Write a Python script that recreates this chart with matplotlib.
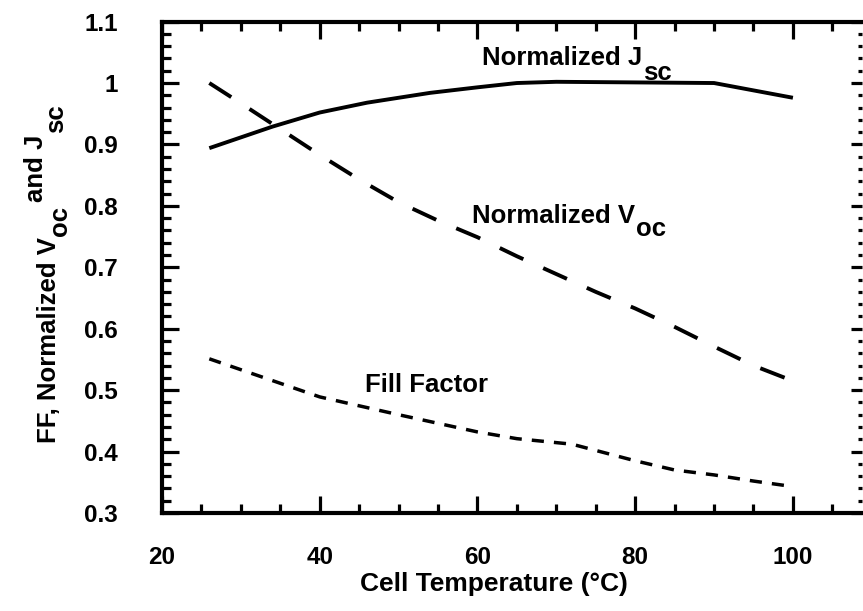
import matplotlib
matplotlib.use("Agg")
import matplotlib.pyplot as plt
from matplotlib.ticker import MultipleLocator, FuncFormatter

# values
temp_jsc = [26, 34, 40, 46, 54, 60, 65, 70, 80, 90, 100]
jsc_norm = [0.894, 0.929, 0.952, 0.968, 0.984, 0.993, 1.0, 1.002, 1.001, 1.0, 0.976]

temp_voc = [26, 30, 35, 40, 45, 50, 55, 60, 65, 70, 75, 80, 85, 90, 95, 100]
voc_norm = [1.0, 0.967, 0.925, 0.883, 0.843, 0.806, 0.776, 0.749, 0.718, 0.689,
            0.66, 0.633, 0.603, 0.571, 0.540, 0.515]

temp_ff = [26, 40, 50, 60, 65, 72, 80, 85, 90, 95, 100]
fill_factor = [0.551, 0.489, 0.46, 0.432, 0.421, 0.412, 0.385, 0.370, 0.362, 0.352, 0.343]

plt.rcParams['font.family'] = ['Liberation Sans', 'DejaVu Sans']
plt.rcParams['font.weight'] = 'bold'

W, H = 863, 611
fig = plt.figure(figsize=(W / 100, H / 100), dpi=100)
ax = fig.add_axes([162 / W, 1 - 513 / H, (862 - 162) / W, (513 - 21.6) / H])

ax.plot(temp_jsc, jsc_norm, color='black', lw=2.8, solid_capstyle='butt')
l_voc, = ax.plot(temp_voc, voc_norm, color='black', lw=2.8)
l_voc.set_dashes((6.7, 5.6))
l_ff, = ax.plot(temp_ff, fill_factor, color='black', lw=2.5)
l_ff.set_dashes((3.5, 2.9))

ax.set_xlim(20, 108.76)
ax.set_ylim(0.3, 1.1)

ax.xaxis.set_major_locator(MultipleLocator(20))
ax.xaxis.set_minor_locator(MultipleLocator(5))
ax.yaxis.set_major_locator(MultipleLocator(0.1))
ax.yaxis.set_minor_locator(MultipleLocator(0.02))
ax.yaxis.set_major_formatter(FuncFormatter(lambda v, p: '%g' % round(v, 2)))

for side in ['left', 'bottom', 'top']:
    ax.spines[side].set_linewidth(3)
ax.spines['right'].set_visible(False)

ax.tick_params(which='both', direction='in', top=True, right=False, width=2.3)
ax.tick_params(which='major', length=12.5)
ax.tick_params(which='minor', length=6.5)
ax.tick_params(axis='x', which='major', pad=24, labelsize=17.5)
ax.tick_params(axis='y', which='major', pad=32, labelsize=17.5)
for lab in ax.get_xticklabels() + ax.get_yticklabels():
    lab.set_fontweight('bold')

# right side: only short tick marks, no spine line
ax_r = ax.twinx()
ax_r.set_ylim(ax.get_ylim())
ax_r.yaxis.set_major_locator(MultipleLocator(0.1))
ax_r.yaxis.set_minor_locator(MultipleLocator(0.02))
for s in ax_r.spines.values():
    s.set_visible(False)
ax_r.tick_params(which='both', direction='in', width=2.3, labelright=False)
ax_r.tick_params(which='major', length=8)
ax_r.tick_params(which='minor', length=3)

ax.set_xlabel('Cell Temperature (°C)', fontsize=19, fontweight='bold')
ax.xaxis.set_label_coords((494 - 162) / 700, (513 - 584) / 491.4)
ax.xaxis.label.set_va('center')

FS = 18.5


def label_with_sub(x, y, main, sub, drop):
    t = ax.text(x, y, main, fontsize=FS, fontweight='bold', ha='left', va='baseline')
    ax.annotate(sub, xy=(1, y), xycoords=(t, 'data'), xytext=(0.5, -drop),
                textcoords='offset points', fontsize=FS, fontweight='bold',
                ha='left', va='baseline')
    return t


label_with_sub(60.6, 1.029, 'Normalized J', 'sc', 11)
label_with_sub(59.3, 0.772, 'Normalized V', 'oc', 9.5)
ax.text(45.7, 0.497, 'Fill Factor', fontsize=FS, fontweight='bold', ha='left', va='baseline')

# y label, built in pieces to keep the raised "and J" of the original
YFS = 18.5
kw = dict(fontsize=YFS, fontweight='bold', rotation=90, rotation_mode='anchor',
          ha='left', va='baseline', annotation_clip=False)
x0 = 56 / W
t1 = fig.text(x0, 1 - 443 / H, 'FF, Normalized V', fontsize=YFS, fontweight='bold',
              rotation=90, rotation_mode='anchor', ha='left', va='baseline')
t2 = ax.annotate('oc', xy=(x0, 1), xycoords=('figure fraction', t1),
                 xytext=(8, 1), textcoords='offset points', **kw)
t3 = ax.annotate('and J', xy=(x0, 1), xycoords=('figure fraction', t2),
                 xytext=(-9.5, 3), textcoords='offset points', **kw)
ax.annotate('sc', xy=(x0, 1), xycoords=('figure fraction', t3),
            xytext=(5, 1), textcoords='offset points', **kw)

fig.savefig('out.png', dpi=100, facecolor='white')
